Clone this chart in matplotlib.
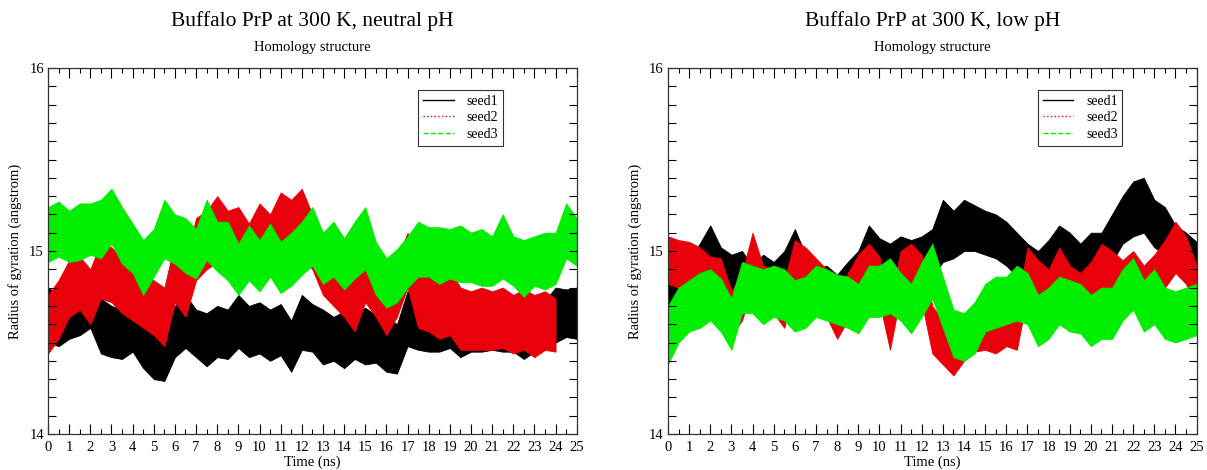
import numpy as np
import matplotlib
matplotlib.use("Agg")
import matplotlib.pyplot as plt
from matplotlib.ticker import MultipleLocator

plt.rcParams["font.family"] = ["Liberation Serif", "DejaVu Serif"]

# time axis, one value every 0.5 ns
time_ns = np.arange(0, 25.01, 0.5)
time_red_left = np.arange(0, 24.01, 0.5)

# neutral pH, band of each trace (low / high edge)
neutral_seed1_lo = [14.50, 14.48, 14.52, 14.54, 14.58, 14.44, 14.42, 14.41, 14.45, 14.36, 14.30,
                    14.29, 14.42, 14.47, 14.42, 14.37, 14.42, 14.41, 14.47, 14.42, 14.44, 14.40,
                    14.43, 14.34, 14.46, 14.45, 14.38, 14.40, 14.36, 14.41, 14.38, 14.39, 14.34,
                    14.33, 14.48, 14.46, 14.45, 14.45, 14.47, 14.42, 14.45, 14.45, 14.46, 14.45,
                    14.45, 14.41, 14.45, 14.46, 14.50, 14.53, 14.52]
neutral_seed1_hi = [14.80, 14.76, 14.83, 14.80, 14.88, 14.74, 14.70, 14.68, 14.74, 14.63, 14.60,
                    14.56, 14.70, 14.76, 14.68, 14.66, 14.70, 14.68, 14.76, 14.70, 14.72, 14.68,
                    14.71, 14.62, 14.76, 14.71, 14.68, 14.64, 14.67, 14.66, 14.69, 14.65, 14.64,
                    14.60, 14.78, 14.73, 14.76, 14.71, 14.78, 14.69, 14.73, 14.74, 14.72, 14.75,
                    14.72, 14.69, 14.74, 14.73, 14.80, 14.79, 14.80]
neutral_seed2_lo = [14.44, 14.52, 14.64, 14.68, 14.60, 14.74, 14.72, 14.66, 14.62, 14.58, 14.54,
                    14.48, 14.72, 14.64, 14.84, 14.90, 14.94, 14.92, 14.88, 14.85, 14.92, 14.88,
                    14.94, 14.96, 14.96, 14.90, 14.76, 14.70, 14.64, 14.56, 14.72, 14.64, 14.54,
                    14.64, 14.80, 14.58, 14.56, 14.52, 14.54, 14.46, 14.46, 14.46, 14.46, 14.47,
                    14.44, 14.46, 14.42, 14.46, 14.45]
neutral_seed2_hi = [14.76, 14.84, 14.95, 14.97, 14.90, 15.05, 15.02, 14.96, 14.90, 14.88, 14.84,
                    14.80, 15.05, 14.94, 15.18, 15.22, 15.30, 15.22, 15.24, 15.15, 15.26, 15.20,
                    15.32, 15.28, 15.34, 15.20, 15.10, 14.98, 14.98, 14.86, 15.05, 14.94, 14.84,
                    14.96, 15.10, 14.90, 14.90, 14.86, 14.90, 14.80, 14.78, 14.80, 14.78, 14.80,
                    14.76, 14.79, 14.76, 14.78, 14.74]
neutral_seed3_lo = [14.94, 14.97, 14.94, 14.95, 14.98, 14.96, 15.04, 14.93, 14.88, 14.76, 14.86,
                    14.96, 14.93, 14.88, 14.85, 14.95, 14.89, 14.84, 14.76, 14.84, 14.78, 14.86,
                    14.77, 14.81, 14.87, 14.92, 14.82, 14.86, 14.79, 14.85, 14.90, 14.76, 14.69,
                    14.72, 14.80, 14.86, 14.86, 14.82, 14.85, 14.83, 14.83, 14.81, 14.81, 14.85,
                    14.81, 14.75, 14.81, 14.79, 14.82, 14.96, 14.92]
neutral_seed3_hi = [15.24, 15.27, 15.22, 15.26, 15.26, 15.28, 15.34, 15.24, 15.15, 15.06, 15.12,
                    15.28, 15.20, 15.18, 15.12, 15.28, 15.16, 15.16, 15.04, 15.14, 15.06, 15.15,
                    15.05, 15.10, 15.16, 15.24, 15.10, 15.16, 15.07, 15.16, 15.24, 15.05, 14.96,
                    15.01, 15.08, 15.16, 15.13, 15.13, 15.12, 15.14, 15.10, 15.12, 15.08, 15.20,
                    15.08, 15.06, 15.08, 15.10, 15.10, 15.26, 15.18]

# low pH
low_seed1_lo = [14.66, 14.70, 14.72, 14.76, 14.84, 14.80, 14.74, 14.72, 14.68, 14.72, 14.70,
                14.74, 14.80, 14.72, 14.66, 14.66, 14.62, 14.68, 14.76, 14.86, 14.84, 14.78,
                14.84, 14.82, 14.84, 14.86, 14.94, 14.96, 15.00, 15.00, 14.98, 14.96, 14.92,
                14.86, 14.80, 14.76, 14.80, 14.88, 14.86, 14.80, 14.84, 14.86, 14.94, 15.04,
                15.08, 15.10, 15.02, 14.98, 14.90, 14.86, 14.82]
low_seed1_hi = [14.90, 14.96, 14.96, 15.04, 15.14, 15.02, 14.98, 15.00, 14.92, 14.98, 14.94,
                15.00, 15.12, 14.98, 14.90, 14.92, 14.87, 14.94, 15.00, 15.14, 15.07, 15.04,
                15.08, 15.06, 15.08, 15.12, 15.28, 15.22, 15.28, 15.25, 15.22, 15.20, 15.16,
                15.10, 15.04, 15.00, 15.06, 15.14, 15.10, 15.04, 15.10, 15.10, 15.20, 15.30,
                15.38, 15.40, 15.28, 15.24, 15.14, 15.10, 15.05]
low_seed2_lo = [14.82, 14.80, 14.80, 14.76, 14.72, 14.70, 14.54, 14.62, 14.80, 14.68, 14.66,
                14.58, 14.80, 14.76, 14.70, 14.64, 14.52, 14.62, 14.72, 14.78, 14.72, 14.46,
                14.76, 14.78, 14.72, 14.44, 14.38, 14.32, 14.40, 14.45, 14.46, 14.44, 14.48,
                14.46, 14.76, 14.70, 14.66, 14.75, 14.68, 14.62, 14.70, 14.78, 14.76, 14.70,
                14.76, 14.64, 14.72, 14.80, 14.88, 14.82, 14.68]
low_seed2_hi = [15.08, 15.06, 15.05, 15.02, 14.97, 14.96, 14.78, 14.88, 15.10, 14.92, 14.90,
                14.84, 15.06, 15.02, 14.96, 14.90, 14.76, 14.88, 14.98, 15.04, 14.97, 14.72,
                15.00, 15.04, 14.98, 14.70, 14.62, 14.58, 14.66, 14.70, 14.72, 14.69, 14.74,
                14.70, 15.02, 14.95, 14.90, 15.02, 14.92, 14.88, 14.94, 15.04, 15.00, 14.95,
                15.00, 14.92, 14.98, 15.06, 15.16, 15.08, 14.92]
low_seed3_lo = [14.38, 14.50, 14.56, 14.58, 14.62, 14.56, 14.46, 14.66, 14.66, 14.60, 14.64,
                14.62, 14.56, 14.58, 14.64, 14.62, 14.60, 14.58, 14.55, 14.64, 14.64, 14.66,
                14.62, 14.55, 14.64, 14.74, 14.58, 14.42, 14.40, 14.44, 14.56, 14.58, 14.60,
                14.62, 14.60, 14.48, 14.52, 14.60, 14.56, 14.55, 14.48, 14.52, 14.52, 14.62,
                14.68, 14.56, 14.60, 14.52, 14.50, 14.52, 14.54]
low_seed3_hi = [14.70, 14.80, 14.84, 14.88, 14.90, 14.85, 14.74, 14.94, 14.92, 14.90, 14.92,
                14.90, 14.84, 14.86, 14.92, 14.90, 14.87, 14.86, 14.82, 14.92, 14.92, 14.96,
                14.88, 14.82, 14.94, 15.04, 14.86, 14.68, 14.66, 14.72, 14.82, 14.86, 14.86,
                14.92, 14.88, 14.76, 14.80, 14.86, 14.84, 14.82, 14.76, 14.80, 14.80, 14.90,
                14.96, 14.84, 14.90, 14.80, 14.78, 14.80, 14.82]

titles = ["Buffalo PrP at 300 K, neutral pH", "Buffalo PrP at 300 K, low pH"]
subtitle = "Homology structure"
series_names = ["seed1", "seed2", "seed3"]
series_colors = ["black", "#e8000b", "#00ee00"]
series_styles = ["-", ":", "--"]

panels = [
    [(time_ns, neutral_seed1_lo, neutral_seed1_hi),
     (time_red_left, neutral_seed2_lo, neutral_seed2_hi),
     (time_ns, neutral_seed3_lo, neutral_seed3_hi)],
    [(time_ns, low_seed1_lo, low_seed1_hi),
     (time_ns, low_seed2_lo, low_seed2_hi),
     (time_ns, low_seed3_lo, low_seed3_hi)],
]

fig = plt.figure(figsize=(12.07, 4.70), dpi=100)
axes_left = [0.0398, 0.5534]

for i, (left, title) in enumerate(zip(axes_left, titles)):
    ax = fig.add_axes([left, 0.0766, 0.4380, 0.7787])
    for (t, lo, hi), color, style, name in zip(panels[i], series_colors, series_styles, series_names):
        ax.fill_between(t, lo, hi, color=color, linewidth=0.6)
        ax.plot([], [], color=color, linestyle=style, linewidth=1.0, label=name)

    ax.set_xlim(0, 25)
    ax.set_ylim(14, 16)
    ax.xaxis.set_major_locator(MultipleLocator(1))
    ax.xaxis.set_minor_locator(MultipleLocator(0.5))
    ax.yaxis.set_major_locator(MultipleLocator(1))
    ax.yaxis.set_minor_locator(MultipleLocator(0.1))
    ax.tick_params(which="both", direction="in", top=True, right=True, labelsize=10.5,
                   width=0.8)
    ax.tick_params(axis="x", which="major", length=7, pad=5)
    ax.tick_params(axis="x", which="minor", length=3.5)
    ax.tick_params(axis="y", which="both", length=6, pad=3)
    for spine in ax.spines.values():
        spine.set_linewidth(0.9)
        spine.set_color("#333333")

    ax.set_xlabel("Time (ns)", fontsize=10.5, labelpad=1)
    ax.set_ylabel("Radius of gyration (angstrom)", fontsize=10.5, labelpad=5)
    ax.text(0.5, 1.128, title, transform=ax.transAxes, ha="center", va="center", fontsize=15.5)
    ax.text(0.5, 1.057, subtitle, transform=ax.transAxes, ha="center", va="center", fontsize=10.5)

    leg = ax.legend(loc="upper left", bbox_to_anchor=(0.70, 0.94), borderaxespad=0,
                    fontsize=10, fancybox=False, framealpha=1, edgecolor="#333333",
                    handlelength=2.2, borderpad=0.35, labelspacing=0.25, handletextpad=0.9)
    leg.get_frame().set_linewidth(0.8)

fig.savefig("out.png", dpi=100)
